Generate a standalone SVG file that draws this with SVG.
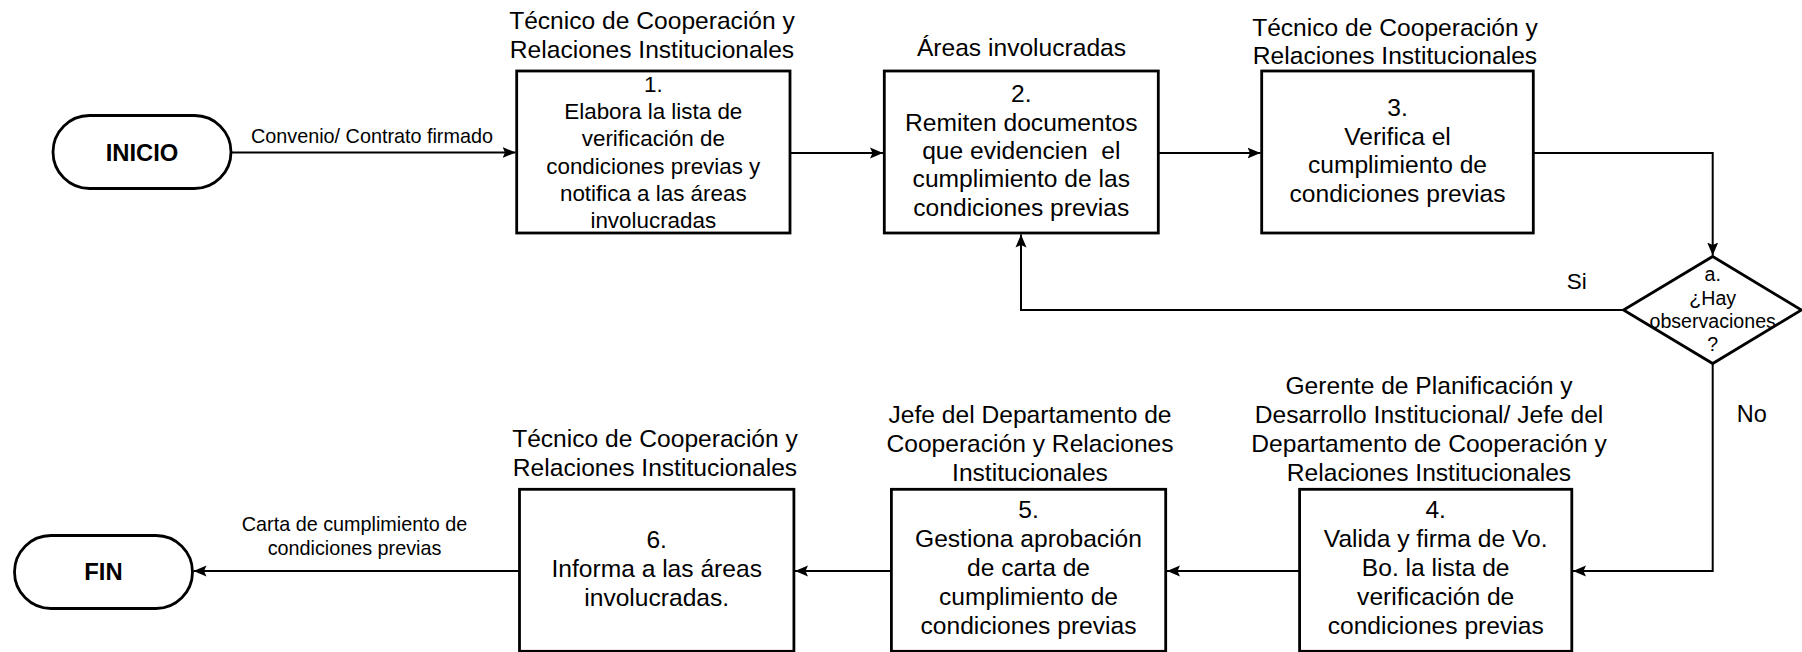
<svg xmlns="http://www.w3.org/2000/svg" width="1802" height="652" viewBox="0 0 1802 652">
<style>
  .shape { fill: #ffffff; stroke: #000000; stroke-width: 2.8; }
  .conn { fill: none; stroke: #000000; stroke-width: 2; }
  text { font-family: "Liberation Sans", Arial, sans-serif; fill: #000000; text-anchor: middle; }
  .hdr { font-size: 24.6px; }
  .body { font-size: 24.6px; }
  .body1 { font-size: 22.4px; }
  .lbl { font-size: 19.8px; }
  .dia { font-size: 19.6px; }
  .term { font-size: 23.8px; font-weight: bold; }
  .si { font-size: 22.5px; }
  .no { font-size: 23.5px; }
</style>
<defs>
  <marker id="arrow" markerUnits="userSpaceOnUse" markerWidth="14" markerHeight="12" refX="13" refY="6" orient="auto">
    <path d="M0,0.5 L13,6 L0,11.5 L2.5,6 z" fill="#000000"/>
  </marker>
</defs>

<g id="connectors">
  <path class="conn" d="M232,152.5 H515.5" marker-end="url(#arrow)"/>
  <path class="conn" d="M790,153 H883" marker-end="url(#arrow)"/>
  <path class="conn" d="M1158.5,153 H1260.5" marker-end="url(#arrow)"/>
  <path class="conn" d="M1533.5,153 H1712.7 V255.5" marker-end="url(#arrow)"/>
  <path class="conn" d="M1623.5,310 H1021 V234.5" marker-end="url(#arrow)"/>
  <path class="conn" d="M1712.7,363.5 V571 H1573" marker-end="url(#arrow)"/>
  <path class="conn" d="M1299.5,571 H1167" marker-end="url(#arrow)"/>
  <path class="conn" d="M891.5,571 H795" marker-end="url(#arrow)"/>
  <path class="conn" d="M519.5,571 H193.5" marker-end="url(#arrow)"/>
  <text class="lbl" x="372" y="142.5">Convenio/ Contrato firmado</text>
  <text class="lbl"><tspan x="354.5" y="531">Carta de cumplimiento de</tspan><tspan x="354.5" y="555">condiciones previas</tspan></text>
  <text class="si" x="1576.7" y="288.5">Si</text>
  <text class="no" x="1751.7" y="421.5">No</text>
</g>

<g id="inicio">
  <rect class="shape" x="53" y="115.5" width="178" height="73" rx="36.5" ry="36.5"/>
  <text class="term" x="142" y="160.5">INICIO</text>
</g>

<g id="step1">
  <text class="hdr"><tspan x="652" y="29">Técnico de Cooperación y</tspan><tspan x="652" y="57.5">Relaciones Institucionales</tspan></text>
  <rect class="shape" x="516.7" y="71" width="273.3" height="162"/>
  <text class="body1"><tspan x="653.3" y="92">1.</tspan><tspan x="653.3" y="119.2">Elabora la lista de</tspan><tspan x="653.3" y="146.4">verificación de</tspan><tspan x="653.3" y="173.6">condiciones previas y</tspan><tspan x="653.3" y="200.8">notifica a las áreas</tspan><tspan x="653.3" y="228">involucradas</tspan></text>
</g>

<g id="step2">
  <text class="hdr" x="1021.5" y="56">Áreas involucradas</text>
  <rect class="shape" x="884.3" y="71" width="274" height="162"/>
  <text class="body"><tspan x="1021.3" y="102.4">2.</tspan><tspan x="1021.3" y="130.7">Remiten documentos</tspan><tspan x="1021.3" y="159">que evidencien&#160; el</tspan><tspan x="1021.3" y="187.3">cumplimiento de las</tspan><tspan x="1021.3" y="215.6">condiciones previas</tspan></text>
</g>

<g id="step3">
  <text class="hdr"><tspan x="1395" y="36">Técnico de Cooperación y</tspan><tspan x="1395" y="64">Relaciones Institucionales</tspan></text>
  <rect class="shape" x="1261.7" y="71" width="271.6" height="162"/>
  <text class="body"><tspan x="1397.5" y="116">3.</tspan><tspan x="1397.5" y="144.5">Verifica el</tspan><tspan x="1397.5" y="173">cumplimiento de</tspan><tspan x="1397.5" y="201.5">condiciones previas</tspan></text>
</g>

<g id="decision">
  <polygon class="shape" points="1712.7,256.5 1801.5,310 1712.7,363.5 1623.5,310"/>
  <text class="dia"><tspan x="1712.7" y="281">a.</tspan><tspan x="1712.7" y="305">¿Hay</tspan><tspan x="1712.7" y="328">observaciones</tspan><tspan x="1712.7" y="351">?</tspan></text>
</g>

<g id="step4">
  <text class="hdr"><tspan x="1429" y="394">Gerente de Planificación y</tspan><tspan x="1429" y="423">Desarrollo Institucional/ Jefe del</tspan><tspan x="1429" y="452">Departamento de Cooperación y</tspan><tspan x="1429" y="481">Relaciones Institucionales</tspan></text>
  <rect class="shape" x="1299.6" y="489.3" width="272.2" height="162"/>
  <text class="body"><tspan x="1435.7" y="518.3">4.</tspan><tspan x="1435.7" y="547.3">Valida y firma de Vo.</tspan><tspan x="1435.7" y="576.3">Bo. la lista de</tspan><tspan x="1435.7" y="605.3">verificación de</tspan><tspan x="1435.7" y="634.3">condiciones previas</tspan></text>
</g>

<g id="step5">
  <text class="hdr"><tspan x="1030" y="423">Jefe del Departamento de</tspan><tspan x="1030" y="452">Cooperación y Relaciones</tspan><tspan x="1030" y="481">Institucionales</tspan></text>
  <rect class="shape" x="891.4" y="489.3" width="274.3" height="162"/>
  <text class="body"><tspan x="1028.5" y="518.3">5.</tspan><tspan x="1028.5" y="547.3">Gestiona aprobación</tspan><tspan x="1028.5" y="576.3">de carta de</tspan><tspan x="1028.5" y="605.3">cumplimiento de</tspan><tspan x="1028.5" y="634.3">condiciones previas</tspan></text>
</g>

<g id="step6">
  <text class="hdr"><tspan x="655" y="447">Técnico de Cooperación y</tspan><tspan x="655" y="476">Relaciones Institucionales</tspan></text>
  <rect class="shape" x="519.5" y="489.3" width="274.4" height="162"/>
  <text class="body"><tspan x="656.7" y="548.3">6.</tspan><tspan x="656.7" y="577">Informa a las áreas</tspan><tspan x="656.7" y="606">involucradas.</tspan></text>
</g>

<g id="fin">
  <rect class="shape" x="14.5" y="535.5" width="178" height="73" rx="36.5" ry="36.5"/>
  <text class="term" x="103.5" y="580">FIN</text>
</g>
</svg>
